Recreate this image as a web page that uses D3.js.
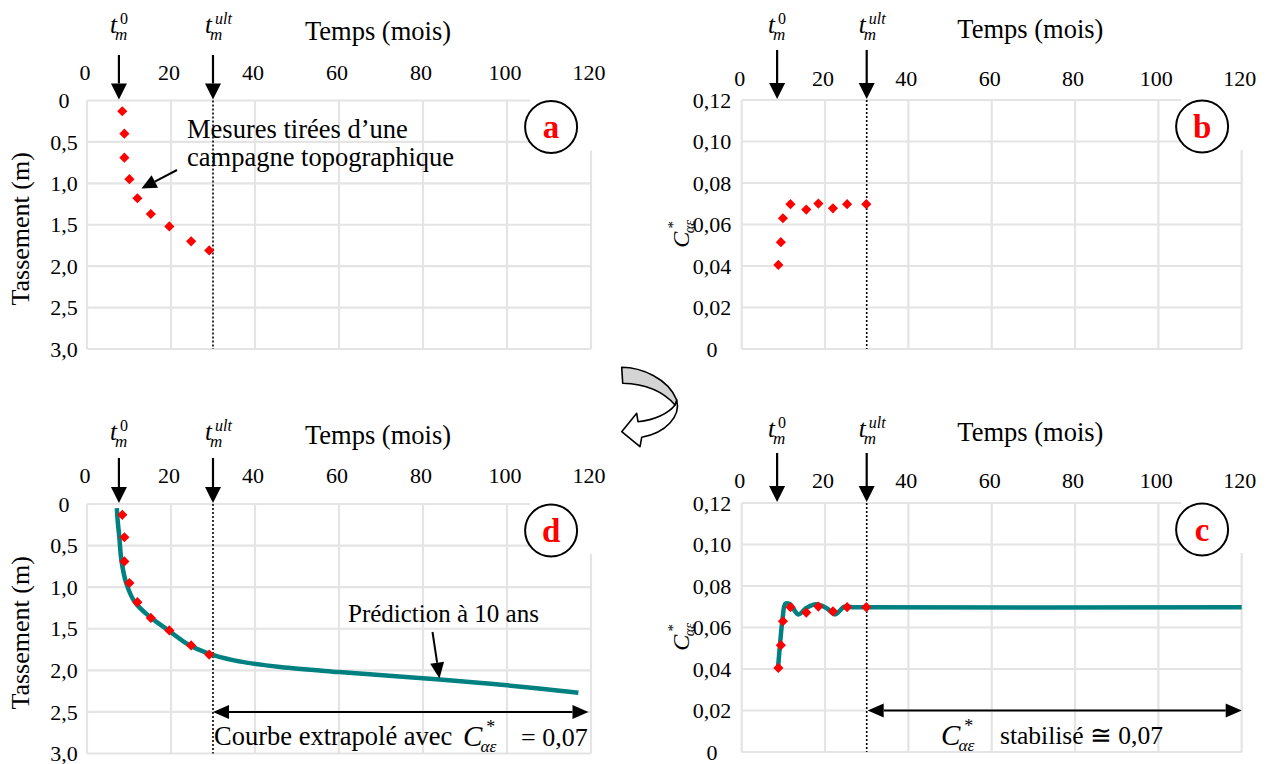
<!DOCTYPE html>
<html>
<head>
<meta charset="utf-8">
<script src="https://cdn.jsdelivr.net/npm/d3@7"></script>
<style>
  body { margin: 0; background: #fff; }
  svg text { font-family: "Liberation Serif", "Times New Roman", serif; fill: #000; }
</style>
</head>
<body>
<svg id="chart" width="1273" height="764" font-family="Liberation Serif, Times New Roman, serif"></svg>
<script>
// Axis ticks
const timeTicks = [0, 20, 40, 60, 80, 100, 120];
const settleTicks = [0, 0.5, 1.0, 1.5, 2.0, 2.5, 3.0];
const coefTicks = [0, 0.02, 0.04, 0.06, 0.08, 0.10, 0.12];

// Topographic measurements (panels a and d)
const measTime   = [8.4, 8.9, 8.9, 10.1, 12.0, 15.2, 19.6, 24.8, 29.1];
const measSettle = [0.13, 0.40, 0.69, 0.95, 1.18, 1.37, 1.52, 1.70, 1.81];

// C*ae derived from the measurements (panels b and c)
const coefTime  = [8.8, 9.4, 9.9, 11.7, 15.5, 18.4, 21.9, 25.3, 29.9];
const coefValue = [0.0405, 0.0515, 0.063, 0.0698, 0.0672, 0.0701, 0.0678, 0.0698, 0.0698];

// Extrapolated settlement curve (panel d)
const fitTime   = [7.1, 7.3, 7.7, 8.2, 9.4, 11.4, 14.8, 19.4, 24.1, 29.0, 35, 46, 60, 72, 84, 100, 117];
const fitSettle = [0.05, 0.20, 0.40, 0.68, 0.96, 1.18, 1.35, 1.52, 1.69, 1.80, 1.88, 1.96, 2.02, 2.065, 2.11, 2.18, 2.27];

// Stabilised coefficient curve (panel c)
const stabTime = [8.7, 9.2, 9.8, 10.5, 11.6, 13.6, 15.6, 17.8, 20.4, 22.4, 24.6, 26.5, 30, 120];
const stabCoef = [0.040, 0.052, 0.064, 0.0715, 0.0712, 0.0663, 0.0695, 0.0712, 0.0693, 0.0663, 0.0700, 0.0698, 0.0697, 0.0697];

// Key times (months)
const tStartLeft = 7.6, tStartRight = 8.5, tUlt = 30, tEndArrow = 119.4;

const FONT = 'Liberation Serif, Times New Roman, serif';
const svg = d3.select('#chart');
const loc = d3.formatLocale({ decimal: ',', thousands: ' ', grouping: [3], currency: ['', ''] });
const fmt1 = loc.format('.1f'), fmt2 = loc.format('.2f');

const GRID = '#e4e4e4', TEAL = '#008080', RED = '#ff0000';

function txt(g, x, y, size, s) {
  return g.append('text').attr('x', x).attr('y', y).attr('font-family', FONT)
    .style('font-size', size + 'px').text(s);
}

function arrow(g, x1, y1, x2, y2, len, half, width) {
  const a = Math.atan2(y2 - y1, x2 - x1);
  const bx = x2 - len * Math.cos(a), by = y2 - len * Math.sin(a);
  g.append('line').attr('x1', x1).attr('y1', y1).attr('x2', bx).attr('y2', by)
    .attr('stroke', '#000').attr('stroke-width', width);
  const px = -Math.sin(a) * half, py = Math.cos(a) * half;
  g.append('path').attr('d', `M${x2},${y2}L${bx + px},${by + py}L${bx - px},${by - py}Z`).attr('fill', '#000');
}

function doubleArrow(g, xa, xb, y) {
  const len = 16, half = 7;
  g.append('line').attr('x1', xa + len).attr('x2', xb - len).attr('y1', y).attr('y2', y)
    .attr('stroke', '#000').attr('stroke-width', 2);
  g.append('path').attr('d', `M${xa},${y}L${xa + len},${y - half}L${xa + len},${y + half}Z`).attr('fill', '#000');
  g.append('path').attr('d', `M${xb},${y}L${xb - len},${y - half}L${xb - len},${y + half}Z`).attr('fill', '#000');
}

function tLabel(g, x, base, sup, supItalic) {
  txt(g, x, base, 25, 't').style('font-style', 'italic');
  txt(g, x + 5, base + 7, 17, 'm').style('font-style', 'italic');
  txt(g, x + 10, base - 9, 16, sup).style('font-style', supItalic ? 'italic' : 'normal');
}

function cSymbol(g, x, base, size) {
  txt(g, x, base, size, 'C').style('font-style', 'italic');
  txt(g, x + size * 0.6, base + size * 0.22, size * 0.6, 'αε').style('font-style', 'italic');
  txt(g, x + size * 0.8, base - size * 0.45, size * 0.62, '*');
}

const panels = [
  { id: 'a', kind: 'settle', xr: [87, 591], yr: [100.5, 349], tickY: 80, ylabX: 64, titleY: 40, tY: 33, arrowTop: 55, t0: tStartLeft },
  { id: 'b', kind: 'coef', xr: [741.7, 1241.7], yr: [100, 349], tickY: 86, ylabX: 712, titleY: 38, tY: 33, arrowTop: 50, t0: tStartRight },
  { id: 'd', kind: 'settle', xr: [87, 591], yr: [504, 753.5], tickY: 483, ylabX: 64, titleY: 444, tY: 440, arrowTop: 458, t0: tStartLeft },
  { id: 'c', kind: 'coef', xr: [741.7, 1241.7], yr: [503, 752], tickY: 488, ylabX: 712, titleY: 441, tY: 437, arrowTop: 453, t0: tStartRight }
];

panels.forEach(p => {
  const g = svg.append('g');
  const x = d3.scaleLinear().domain([0, 120]).range(p.xr);
  const settle = p.kind === 'settle';
  const y = settle
    ? d3.scaleLinear().domain([0, 3]).range(p.yr)
    : d3.scaleLinear().domain([0, 0.12]).range([p.yr[1], p.yr[0]]);
  const yTicks = settle ? settleTicks : coefTicks;
  const top = p.yr[0], bottom = p.yr[1];

  // Grid
  g.append('g').selectAll('line').data(timeTicks).enter().append('line')
    .attr('x1', d => x(d)).attr('x2', d => x(d)).attr('y1', top).attr('y2', bottom)
    .attr('stroke', GRID).attr('stroke-width', 2.2);
  g.append('g').selectAll('line').data(yTicks).enter().append('line')
    .attr('x1', p.xr[0]).attr('x2', p.xr[1]).attr('y1', d => y(d)).attr('y2', d => y(d))
    .attr('stroke', GRID).attr('stroke-width', 2.2);

  // Tick labels
  g.append('g').selectAll('text').data(timeTicks).enter().append('text')
    .attr('x', d => x(d) - 2).attr('y', p.tickY).attr('text-anchor', 'middle')
    .attr('font-family', FONT).style('font-size', '22px').text(d => d);
  g.append('g').selectAll('text').data(yTicks).enter().append('text')
    .attr('x', p.ylabX).attr('y', d => y(d)).attr('dy', '0.35em').attr('text-anchor', 'middle')
    .attr('font-family', FONT).style('font-size', '22px')
    .text(d => d === 0 ? '0' : (settle ? fmt1(d) : fmt2(d)));

  // Axis titles
  txt(g, x(70) - 3, p.titleY, 26.5, 'Temps (mois)').attr('text-anchor', 'middle');
  if (settle) {
    txt(g, 0, 0, 26, 'Tassement (m)').attr('text-anchor', 'middle')
      .attr('transform', `translate(29,${y(1.55)}) rotate(-90)`);
  } else {
    const yt = g.append('g').attr('transform', `translate(${p.xr[0] - 53},${y(0.057)}) rotate(-90)`);
    cSymbol(yt, -17, 0, 24);
  }

  // Ultimate time dotted line
  g.append('line').attr('x1', x(tUlt)).attr('x2', x(tUlt)).attr('y1', top).attr('y2', bottom)
    .attr('stroke', '#000').attr('stroke-width', 1.6).attr('stroke-dasharray', '2,2');

  // Fitted curves
  const line = d3.line().x(d => x(d[0])).y(d => y(d[1])).curve(d3.curveCatmullRom.alpha(0.5));
  if (p.id === 'd') {
    g.append('path').datum(fitTime.map((t, i) => [t, fitSettle[i]])).attr('d', line)
      .attr('fill', 'none').attr('stroke', TEAL).attr('stroke-width', 4.5);
  }
  if (p.id === 'c') {
    g.append('path').datum(stabTime.map((t, i) => [t, stabCoef[i]])).attr('d', line)
      .attr('fill', 'none').attr('stroke', TEAL).attr('stroke-width', 4.5);
  }

  // Measured points
  const pts = settle ? measTime.map((t, i) => [t, measSettle[i]]) : coefTime.map((t, i) => [t, coefValue[i]]);
  const sym = d3.symbol().type(d3.symbolSquare).size(52);
  g.append('g').selectAll('path').data(pts).enter().append('path')
    .attr('d', sym).attr('transform', d => `translate(${x(d[0])},${y(d[1])}) rotate(45)`)
    .attr('fill', RED);

  // Time markers
  arrow(g, x(p.t0), p.arrowTop, x(p.t0), top - 1, 16, 8, 2.2);
  arrow(g, x(tUlt), p.arrowTop, x(tUlt), top - 1, 16, 8, 2.2);
  tLabel(g, x(p.t0) - 9, p.tY, '0', false);
  tLabel(g, x(tUlt) - 8, p.tY, 'ult', true);

  // Panel letter
  const cx = x(110.5), cy = top + 26.5;
  g.append('rect').attr('x', cx - 21).attr('y', top - 4).attr('width', 63).attr('height', 54).attr('fill', '#fff');
  g.append('circle').attr('cx', cx).attr('cy', cy).attr('r', 26).attr('fill', '#fff')
    .attr('stroke', '#000').attr('stroke-width', 2);
  txt(g, cx, cy + 11, 33, p.id).attr('text-anchor', 'middle')
    .style('font-weight', 'bold').style('fill', RED);

  // Annotations
  if (p.id === 'a') {
    txt(g, 187, 138, 26.5, 'Mesures tirées d’une');
    txt(g, 187, 166, 26.5, 'campagne topographique');
    arrow(g, 177, 170, 141.5, 188.5, 15, 7, 2);
  }
  if (p.id === 'd') {
    txt(g, 348, 622, 25, 'Prédiction à 10 ans');
    arrow(g, 432.5, 632, 439.5, 678.5, 16, 7, 2);
    doubleArrow(g, x(tUlt), x(tEndArrow), y(2.5));
    txt(g, x(tUlt) + 1, 745, 26.5, 'Courbe extrapolé avec');
    cSymbol(g, 463, 746, 29);
    txt(g, 521, 746, 26, '= 0,07');
  }
  if (p.id === 'c') {
    doubleArrow(g, x(tUlt) + 1, x(120), y(0.02));
    cSymbol(g, 941, 745, 29);
    txt(g, 1000, 744, 25.5, 'stabilisé ≅ 0,07');
  }
});

// Curved transition arrow between b and d
const curl = svg.append('g').attr('stroke', '#000').attr('stroke-width', 1.6).attr('stroke-linejoin', 'round');
curl.append('path')
  .attr('d', 'M676.7,400 C681,416 666,433 641.7,437.3 L640,446.7 L621.7,431.7 L636.7,413.3 L638,421.7 C655,420 669,413 675,405 Z')
  .attr('fill', '#fff');
curl.append('path')
  .attr('d', 'M621.7,367.3 C641,367.5 668,378 676.7,400 L675,405 C662,390 645,384 622.7,383.3 Z')
  .attr('fill', '#d4d4d4');
</script>
</body>
</html>
